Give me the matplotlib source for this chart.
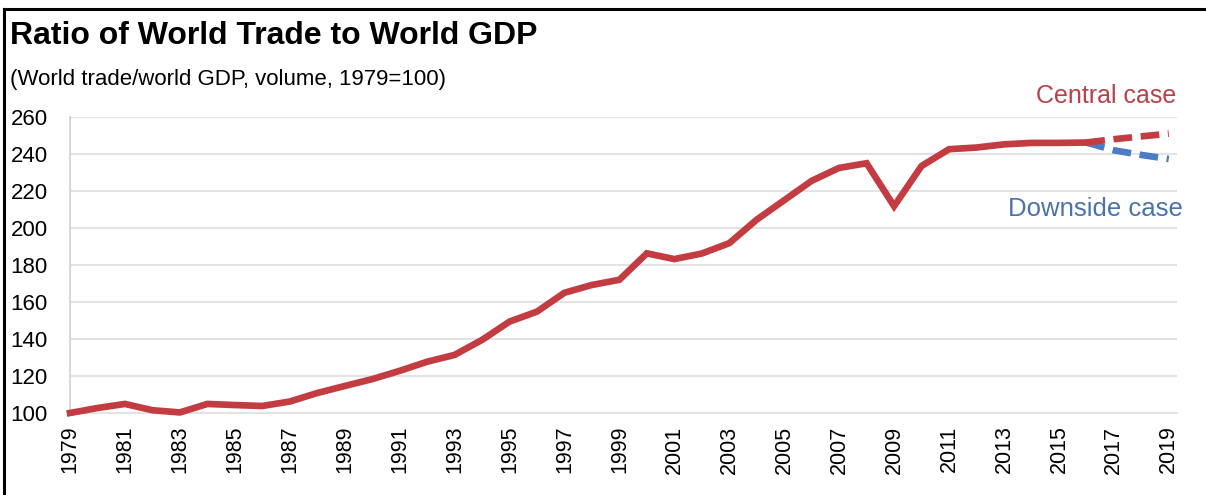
import numpy as np
import matplotlib.pyplot as plt
from matplotlib.lines import Line2D

plt.rcParams['font.family'] = ['Liberation Sans', 'DejaVu Sans']

years = list(range(1979, 2017))
ratio = [100.0, 102.7, 104.9, 101.5, 100.3, 104.9, 104.3, 103.8, 106.2, 110.8,
         114.6, 118.3, 122.8, 127.7, 131.4, 139.5, 149.4, 154.8, 165.0, 169.2,
         172.0, 186.3, 183.2, 186.2, 191.8, 204.5, 215.0, 225.5, 232.5, 235.0,
         211.8, 233.5, 242.6, 243.5, 245.2, 246.0, 246.0, 246.2]

proj_years = [2016, 2017, 2018, 2019]
central = [246.2, 248.0, 249.5, 251.0]
downside = [246.2, 242.0, 239.5, 237.3]

y_ticks = [100, 120, 140, 160, 180, 200, 220, 240, 260]
x_ticks = list(range(1979, 2020, 2))

red = '#C23C42'
blue = '#4A7DC4'

fig = plt.figure(figsize=(12.06, 4.95), dpi=100)
ax = fig.add_axes([70/1206, 1-413/495, (1177-70)/1206, (413-117)/495])

ax.plot(proj_years, downside, color=blue, lw=4.8, dashes=(2.8, 1.3), clip_on=False, zorder=3)
ax.plot(proj_years, central, color=red, lw=4.8, dashes=(2.8, 1.3), clip_on=False, zorder=3)
ax.plot(years, ratio, color=red, lw=4.8, solid_joinstyle='miter', clip_on=False, zorder=4)

ax.set_xlim(1979, 2019.3)
ax.set_ylim(100, 260)
ax.set_yticks(y_ticks)
ax.set_xticks(x_ticks)
ax.set_xticklabels([str(y) for y in x_ticks], rotation=90, fontsize=15.5)
ax.tick_params(axis='y', labelsize=16, length=0, pad=16)
ax.tick_params(axis='x', length=0, pad=9)
ax.grid(axis='y', color='#E3E3E3', lw=1.5)
ax.set_axisbelow(True)
for s in ['top', 'right']:
    ax.spines[s].set_visible(False)
ax.spines['left'].set_color('#D0D0D0')
ax.spines['bottom'].set_color('#E3E3E3')
ax.spines['left'].set_linewidth(1.2)
ax.spines['bottom'].set_linewidth(1.5)
for lab in ax.get_yticklabels():
    lab.set_horizontalalignment('right')

fig.text(10/1206, 1-36/495, 'Ratio of World Trade to World GDP', fontsize=23,
         fontweight='bold', va='center', ha='left')
fig.text(10/1206, 1-79/495, '(World trade/world GDP, volume, 1979=100)', fontsize=16,
         va='center', ha='left')
fig.text(1176/1206, 1-96/495, 'Central case', fontsize=18, color='#B8424A',
         va='center', ha='right')
fig.text(1183/1206, 1-209/495, 'Downside case', fontsize=18.5, color='#4A73A8',
         va='center', ha='right')

# frame around the figure (left and top edges visible)
fig.add_artist(Line2D([4/1206, 4/1206], [0, 1-9/495], color='black', lw=2.2,
                      transform=fig.transFigure))
fig.add_artist(Line2D([4/1206, 1], [1-9/495, 1-9/495], color='black', lw=2.2,
                      transform=fig.transFigure))

fig.savefig('out.png', dpi=100)
